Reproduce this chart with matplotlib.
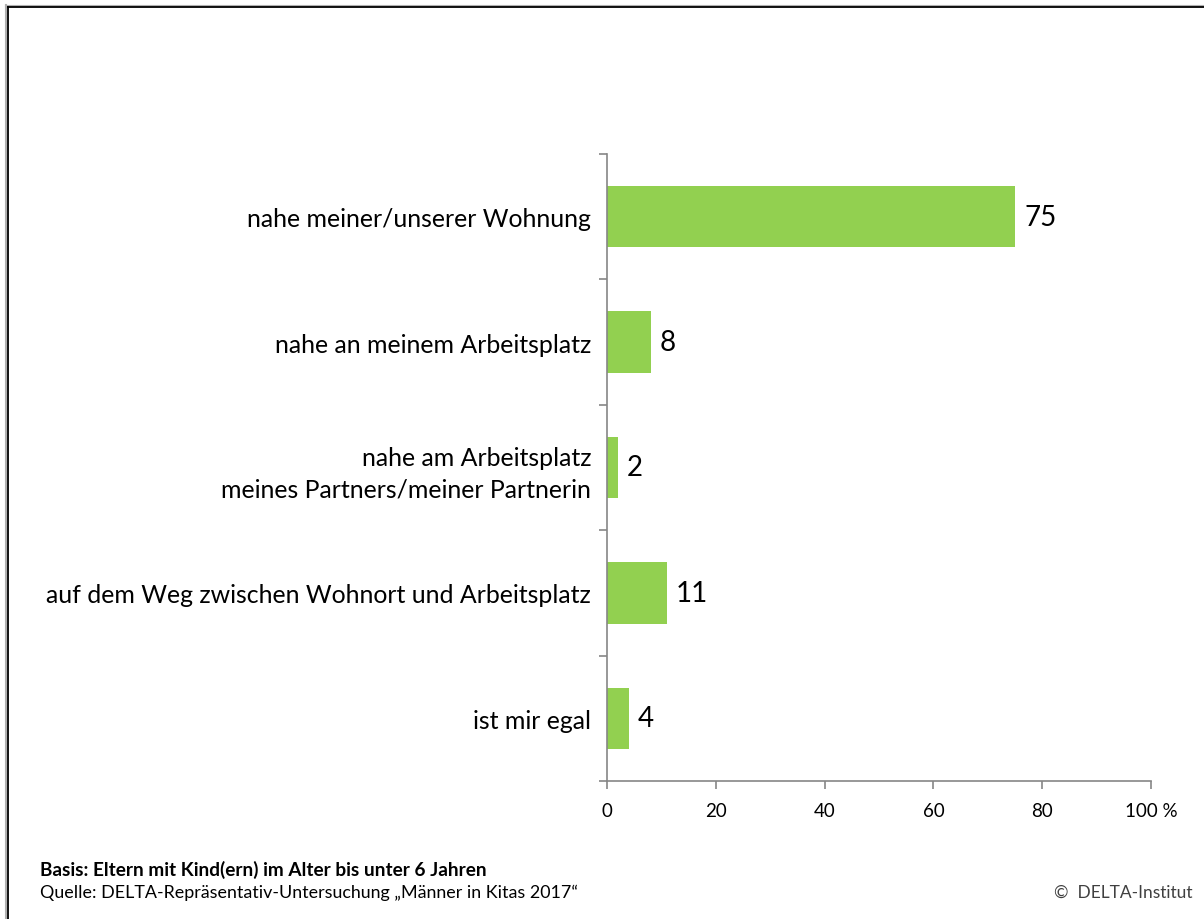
import matplotlib
matplotlib.use("Agg")
import matplotlib.pyplot as plt
from matplotlib.lines import Line2D

categories = [
    "nahe meiner/unserer Wohnung",
    "nahe an meinem Arbeitsplatz",
    "nahe am Arbeitsplatz\nmeines Partners/meiner Partnerin",
    "auf dem Weg zwischen Wohnort und Arbeitsplatz",
    "ist mir egal",
]
values = [75, 8, 2, 11, 4]
xticks = [0, 20, 40, 60, 80, 100]
xtick_labels = ["0", "20", "40", "60", "80", "100 %"]

plt.rcParams["font.family"] = ["Lato", "DejaVu Sans"]

fig = plt.figure(figsize=(12.04, 9.2), dpi=100)
ax = fig.add_axes([607 / 1204, 1 - 782 / 920, (1151 - 607) / 1204, (782 - 155) / 920])

n = len(categories)
ypos = list(range(n))
ax.barh(ypos, values, height=0.49, color="#92D050", zorder=2)
ax.set_ylim(n - 0.5, -0.5)
ax.set_xlim(0, 100)

for y, v in zip(ypos, values):
    ax.text(v + 1.7, y, str(v), va="center", ha="left", fontsize=20, color="#000000")

ax.set_yticks([i - 0.5 for i in range(n + 1)])
ax.set_yticklabels([])
ax.set_yticks(ypos, minor=True)
ax.set_yticklabels(categories, minor=True, fontsize=17.9, ha="right",
                   multialignment="right", linespacing=1.4)
ax.tick_params(axis="y", which="minor", length=0, pad=11.5)
ax.tick_params(axis="y", which="major", length=6, color="#868686", width=1.2)

ax.set_xticks(xticks)
ax.set_xticklabels(xtick_labels, fontsize=13.5)
ax.tick_params(axis="x", length=6, color="#868686", width=1.2, pad=9)

for side in ("top", "right"):
    ax.spines[side].set_visible(False)
for side in ("left", "bottom"):
    ax.spines[side].set_color("#868686")
    ax.spines[side].set_linewidth(1.2)

# frame lines along the top and left edges
fig.add_artist(Line2D([6 / 1204, 1], [1 - 6.5 / 920] * 2, color="#b0b0b0", lw=1.5, transform=fig.transFigure))
fig.add_artist(Line2D([7.5 / 1204, 1], [1 - 8.2 / 920] * 2, color="#000000", lw=1.3, transform=fig.transFigure))
fig.add_artist(Line2D([5.5 / 1204] * 2, [0, 1 - 6 / 920], color="#b0b0b0", lw=1.5, transform=fig.transFigure))
fig.add_artist(Line2D([7.5 / 1204] * 2, [0, 1 - 8 / 920], color="#000000", lw=1.3, transform=fig.transFigure))

fig.text(40 / 1204, 1 - 870 / 920, "Basis: Eltern mit Kind(ern) im Alter bis unter 6 Jahren",
         fontsize=13.7, fontweight="bold", va="center", ha="left")
fig.text(40 / 1204, 1 - 893 / 920, "Quelle: DELTA-Repräsentativ-Untersuchung \u201eMänner in Kitas 2017\u201c",
         fontsize=12.9, va="center", ha="left")
fig.text(1193 / 1204, 1 - 893 / 920, "\u00a9  DELTA-Institut", fontsize=12.5, color="#404040",
         va="center", ha="right")

fig.savefig("out.png", dpi=100)
